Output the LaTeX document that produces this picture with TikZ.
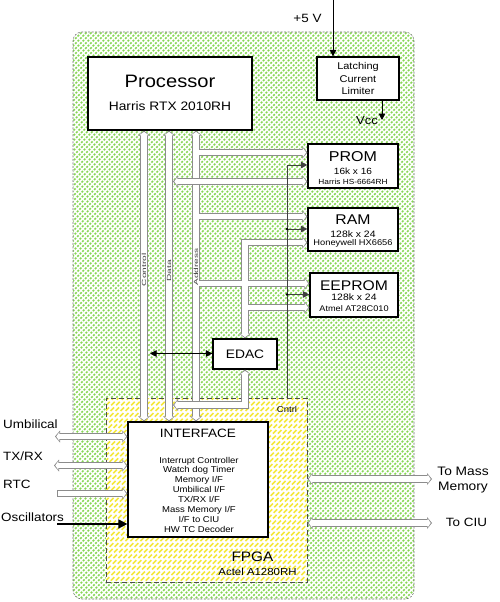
\documentclass[tikz,border=0pt]{standalone}
\usepackage{fontspec}
\setmainfont{Liberation Sans}[FakeStretch=1.12]
\usepackage{graphicx}
\usetikzlibrary{arrows.meta}
\definecolor{hgreen}{RGB}{135,215,85}
\definecolor{hyellow}{RGB}{245,232,60}
\definecolor{busgray}{RGB}{140,140,140}
\newcommand\fsz[2]{\fontsize{#1}{#2}\selectfont}
\tikzset{
  hatch/.style={path picture={\foreach \hx in {-780,-775,...,185}
      \draw[#1, line width=1.7pt] (\hx,300) -- ++(600,-600);}},
  boardregion/.style={draw=black!55, line width=0.6pt, dash pattern=on 2pt off 1.5pt, rounded corners=9pt,
    hatch=hgreen, inner sep=0pt},
  fpgaregion/.style={draw=black!70, line width=1pt, dash pattern=on 5pt off 3pt, fill=white,
    hatch=hyellow, inner sep=0pt},
  box/.style={draw=black, line width=1.2pt, fill=white, inner sep=0pt},
  txt/.style={inner sep=0pt, align=center},
  busout/.style={line width=7.6pt, draw=busgray, >={Triangle[length=5pt,width=12pt,line width=0pt]}},
  busin/.style={line width=5.4pt, draw=white, >={Triangle[length=3pt,width=8.6pt,line width=0pt]},
    shorten >=1.3pt, shorten <=1.3pt},
  sig/.style={draw=black, line width=0.9pt, >={Triangle[length=6.5pt,width=6.5pt]}},
  osc/.style={draw=black, line width=1.5pt, >={Triangle[length=9pt,width=9pt]}},
  cntrl/.style={draw=black!75, line width=0.9pt, >={Triangle[length=6.5pt,width=6.5pt]}},
  buslabel/.style={inner sep=0pt, rotate=90, text=black!75, font=\fsz{6}{7}},
}
\newcommand\busnetA[1]{%
  \draw[#1,<->] (proc.south -| busC) -- (iface.north -| busC);
  \draw[#1,<->] (proc.south -| busD) -- (iface.north -| busD);
  \draw[#1,<->] (proc.south -| busA) -- (iface.north -| busA);
  \draw[#1,->] (aP) -- (aP -| prom.west);
  \draw[#1,->] (aR) -- (aR -| ram.west);
  \draw[#1,->] (aE) -- (aE -| eeprom.west);
  \draw[#1,<->] (edac.north) |- (eR -| ram.west);
  \draw[#1,->] (eE) -- (eE -| eeprom.west);
}
\newcommand\busnetB[1]{%
  \draw[#1,<->] (dP) -- (dP -| prom.west);
  \draw[#1,<->] (edac.south) |- (dB);
}
\newcommand\busnetC[1]{%
  \draw[#1,<->] (umbL) -- (umbL -| iface.west);
  \draw[#1,<->] (txL) -- (txL -| iface.west);
  \draw[#1,->] (rtcL) -- (rtcL -| iface.west);
  \draw[#1,<->] (mmR -| fpga.east) -- (mmR);
  \draw[#1,<->] (ciuR -| fpga.east) -- (ciuR);
}
\begin{document}
\begin{tikzpicture}[x=1pt,y=-1pt]
\useasboundingbox (0,0) rectangle (500,602);
% regions
\node[boardregion, minimum width=341pt, minimum height=567pt] (board) at (243.5,315.5) {};
\node[fpgaregion, minimum width=201pt, minimum height=184pt] (fpga) at (206.5,490) {};
% boxes
\node[box, minimum width=164pt, minimum height=73pt] (proc) at (170,93.5) {};
\node[box, minimum width=82pt, minimum height=43pt] (lcl) at (358,78.5) {};
\node[box, minimum width=90pt, minimum height=44pt] (prom) at (353,166) {};
\node[box, minimum width=90pt, minimum height=43pt] (ram) at (353,229.5) {};
\node[box, minimum width=88pt, minimum height=44pt] (eeprom) at (354,295) {};
\node[box, minimum width=64pt, minimum height=30pt] (edac) at (245,354) {};
\node[box, minimum width=140pt, minimum height=115pt] (iface) at (198,479.5) {};
% coordinates
\coordinate (busC) at (144,0);
\coordinate (busD) at (169,0);
\coordinate (busA) at (196,0);
\coordinate (aP) at (196,152.5);
\coordinate (dP) at (173,181.5);
\coordinate (aR) at (196,216.5);
\coordinate (eR) at (245,242.5);
\coordinate (aE) at (196,283.5);
\coordinate (eE) at (245,307.5);
\coordinate (dB) at (173,405);
\coordinate (umbL) at (55,436.5);
\coordinate (txL) at (54,465.5);
\coordinate (rtcL) at (57,493.5);
\coordinate (oscL) at (57,524);
\coordinate (mmR) at (432,479);
\coordinate (ciuR) at (432,523);
\coordinate (cb) at (287,397.5);
\coordinate (cP) at (287,165);
\coordinate (cR) at (287,229);
\coordinate (cE) at (287,294.5);
\coordinate (edL) at (150,353.5);
\coordinate (vin) at (333,0);
\coordinate (vccE) at (382,120);
% buses
\busnetA{busout}
\busnetA{busin}
\busnetB{busout}
\busnetB{busin}
\busnetC{busout}
\busnetC{busin}
% thin signals
\draw[cntrl,->] (cb) |- (cP -| prom.west);
\draw[cntrl,->] (cR) -- (cR -| ram.west);
\draw[cntrl,->] (cE) -- (cE -| eeprom.west);
\fill[black] (cR) circle (1.4pt);
\fill[black] (cE) circle (1.4pt);
\draw[sig,<->] (edL) -- (edL -| edac.west);
\draw[osc,->] (oscL) -- (oscL -| iface.west);
\draw[sig,->] (vin) -- (vin |- lcl.north);
\draw[sig,->] (vccE |- lcl.south) -- (vccE);
% texts
\node[txt, font=\fsz{18}{20}] (procT) at (170,81) {Processor};
\node[txt, font=\fsz{12.3}{14}] (procS) at (170,106) {Harris RTX 2010RH};
\node[txt, font=\fsz{9.8}{12.3}] (lclT) at (358,78.5) {Latching\\Current\\Limiter};
\node[txt, font=\fsz{14.3}{16}] (promT) at (353,156.5) {PROM};
\node[txt, font=\fsz{9}{10}] (promS) at (353,171) {16k x 16};
\node[txt, font=\fsz{7.4}{8}] (promM) at (353,181.5) {Harris HS-6664RH};
\node[txt, font=\fsz{14.1}{16}] (ramT) at (353,220) {RAM};
\node[txt, font=\fsz{9.3}{10}] (ramS) at (353,234.5) {128k x 24};
\node[txt, font=\fsz{8.3}{9}] (ramM) at (353,243.5) {Honeywell HX6656};
\node[txt, font=\fsz{14}{16}] (eepT) at (354,286) {EEPROM};
\node[txt, font=\fsz{9.3}{10}] (eepS) at (354,297.5) {128k x 24};
\node[txt, font=\fsz{8.2}{9}] (eepM) at (354,309) {Atmel AT28C010};
\node[txt, font=\fsz{12.3}{14}] (edacT) at (245,354) {EDAC};
\node[txt, font=\fsz{12.1}{14}] (ifaceT) at (198,433) {INTERFACE};
\node[txt, font=\fsz{8.5}{9.85}] (ifaceL) at (199,494.5) {Interrupt Controller\\Watch dog Timer\\Memory I/F\\Umbilical I/F\\TX/RX I/F\\Mass Memory I/F\\I/F to CIU\\HW TC Decoder};
\node[txt, font=\fsz{13.7}{15}] (fpgaT) at (252.5,557) {FPGA};
\node[txt, font=\fsz{10.2}{12}] (fpgaS) at (257.5,572) {Actel A1280RH};
\node[txt, font=\fsz{8.5}{10}] (cntrlT) at (287,409.5) {Cntrl};
\node[txt, font=\fsz{12}{14}, anchor=west] (umbT) at (3,424) {Umbilical};
\node[txt, font=\fsz{12}{14}, anchor=west] (txT) at (3,456) {TX/RX};
\node[txt, font=\fsz{12}{14}, anchor=west] (rtcT) at (3,484) {RTC};
\node[txt, font=\fsz{12}{14}, anchor=west] (oscT) at (1,517) {Oscillators};
\node[txt, font=\fsz{12.3}{15}] (mmT) at (463,480) {To Mass\\Memory};
\node[txt, font=\fsz{12}{14}] (ciuT) at (466.5,522.5) {To CIU};
\node[txt, font=\fsz{12}{14}] (v5T) at (307.5,18) {+5 V};
\node[txt, font=\fsz{11.6}{13}] (vccT) at (367,121) {Vcc};
\node[buslabel] (ctlL) at (144,270) {\scalebox{1.5}[1]{Control}};
\node[buslabel] (datL) at (169,271) {\scalebox{1.5}[1]{Data}};
\node[buslabel] (adrL) at (196,267) {\scalebox{1.5}[1]{Address}};
\end{tikzpicture}
\end{document}
